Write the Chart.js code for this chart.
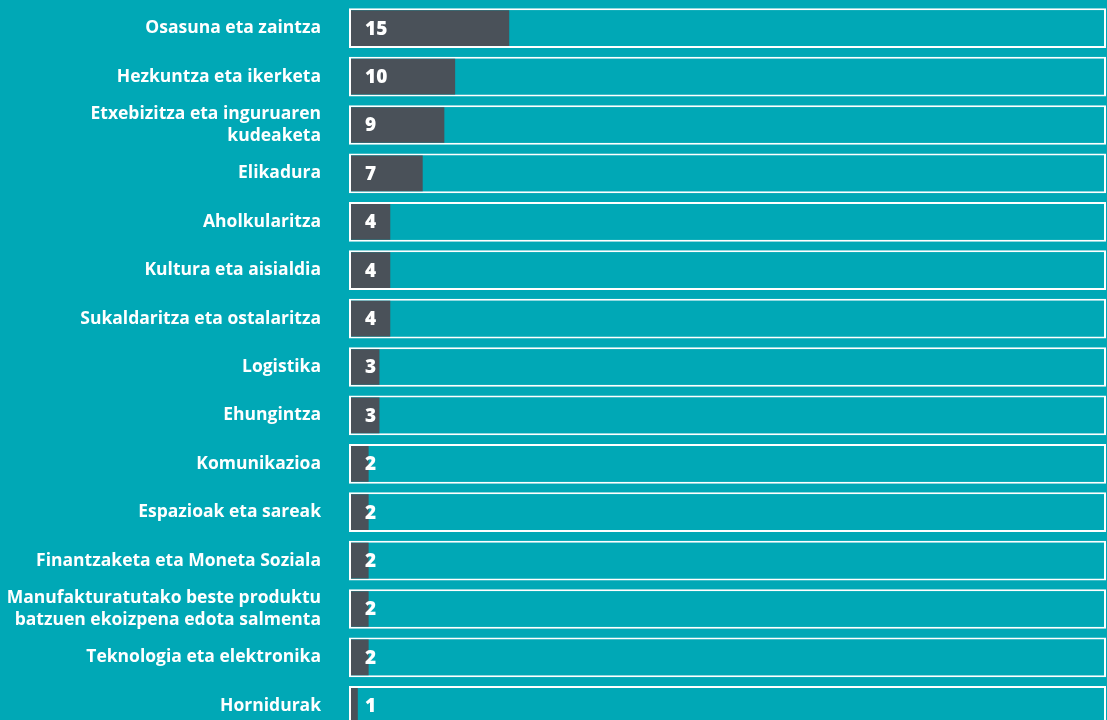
<!DOCTYPE html>
<html lang="eu">
<head>
  <meta charset="UTF-8" />
  <title>Sektoreak</title>
  <script src="https://cdn.jsdelivr.net/npm/chart.js"></script>
  <style>
    html, body { margin: 0; padding: 0; background: #00a8b6; overflow: hidden; }
    #wrap { width: 1107px; height: 730px; }
  </style>
</head>
<body>
  <div id="wrap"><canvas id="sectorChart" width="1107" height="730"></canvas></div>

  <script>
    // categories (sectors), counts, total used as full-bar reference
    const categories = [
      "Osasuna eta zaintza",
      "Hezkuntza eta ikerketa",
      ["Etxebizitza eta inguruaren", "kudeaketa"],
      "Elikadura",
      "Aholkularitza",
      "Kultura eta aisialdia",
      "Sukaldaritza eta ostalaritza",
      "Logistika",
      "Ehungintza",
      "Komunikazioa",
      "Espazioak eta sareak",
      "Finantzaketa eta Moneta Soziala",
      ["Manufakturatutako beste produktu", "batzuen ekoizpena edota salmenta"],
      "Teknologia eta elektronika",
      "Hornidurak"
    ];
    const counts = [15, 10, 9, 7, 4, 4, 4, 3, 3, 2, 2, 2, 2, 2, 1];
    const total = counts.reduce((a, b) => a + b, 0);
    const totals = counts.map(() => total);

    const TEAL = "#00a8b6";
    const DARK = "#4a5159";

    // draws the number inside every dark bar
    const valueLabels = {
      id: "valueLabels",
      afterDatasetsDraw(chart) {
        const ctx = chart.ctx;
        const meta = chart.getDatasetMeta(0);
        ctx.save();
        ctx.fillStyle = "#ffffff";
        ctx.font = "800 19px 'Open Sans', sans-serif";
        ctx.textAlign = "left";
        ctx.textBaseline = "middle";
        meta.data.forEach((bar, i) => {
          ctx.fillText(String(counts[i]), chart.chartArea.left + 16, bar.y + 1);
        });
        ctx.restore();
      }
    };

    new Chart(document.getElementById("sectorChart"), {
      type: "bar",
      data: {
        labels: categories,
        datasets: [
          {
            data: counts,
            backgroundColor: DARK,
            borderColor: "rgba(0,0,0,0)",
            borderWidth: 2,
            borderSkipped: false
          },
          {
            data: totals,
            backgroundColor: TEAL,
            borderColor: "#ffffff",
            borderWidth: 2,
            borderSkipped: false
          }
        ]
      },
      options: {
        indexAxis: "y",
        responsive: false,
        animation: false,
        layout: { padding: { top: 4, right: 1, bottom: 0, left: 0 } },
        datasets: {
          bar: { grouped: false, barPercentage: 0.82, categoryPercentage: 1 }
        },
        scales: {
          x: { display: false, min: 0, max: total },
          y: {
            grid: { display: false, drawTicks: false },
            border: { display: false },
            afterFit(scale) {
              scale.width = 349;
              scale.paddingTop = 0;
              scale.paddingBottom = 0;
            },
            ticks: {
              color: "#ffffff",
              padding: 28,
              font: { family: "'Open Sans', sans-serif", size: 17.5, weight: "bold", lineHeight: 1.25 }
            }
          }
        },
        plugins: {
          legend: { display: false },
          tooltip: { enabled: false }
        }
      },
      plugins: [valueLabels]
    });
  </script>
</body>
</html>
